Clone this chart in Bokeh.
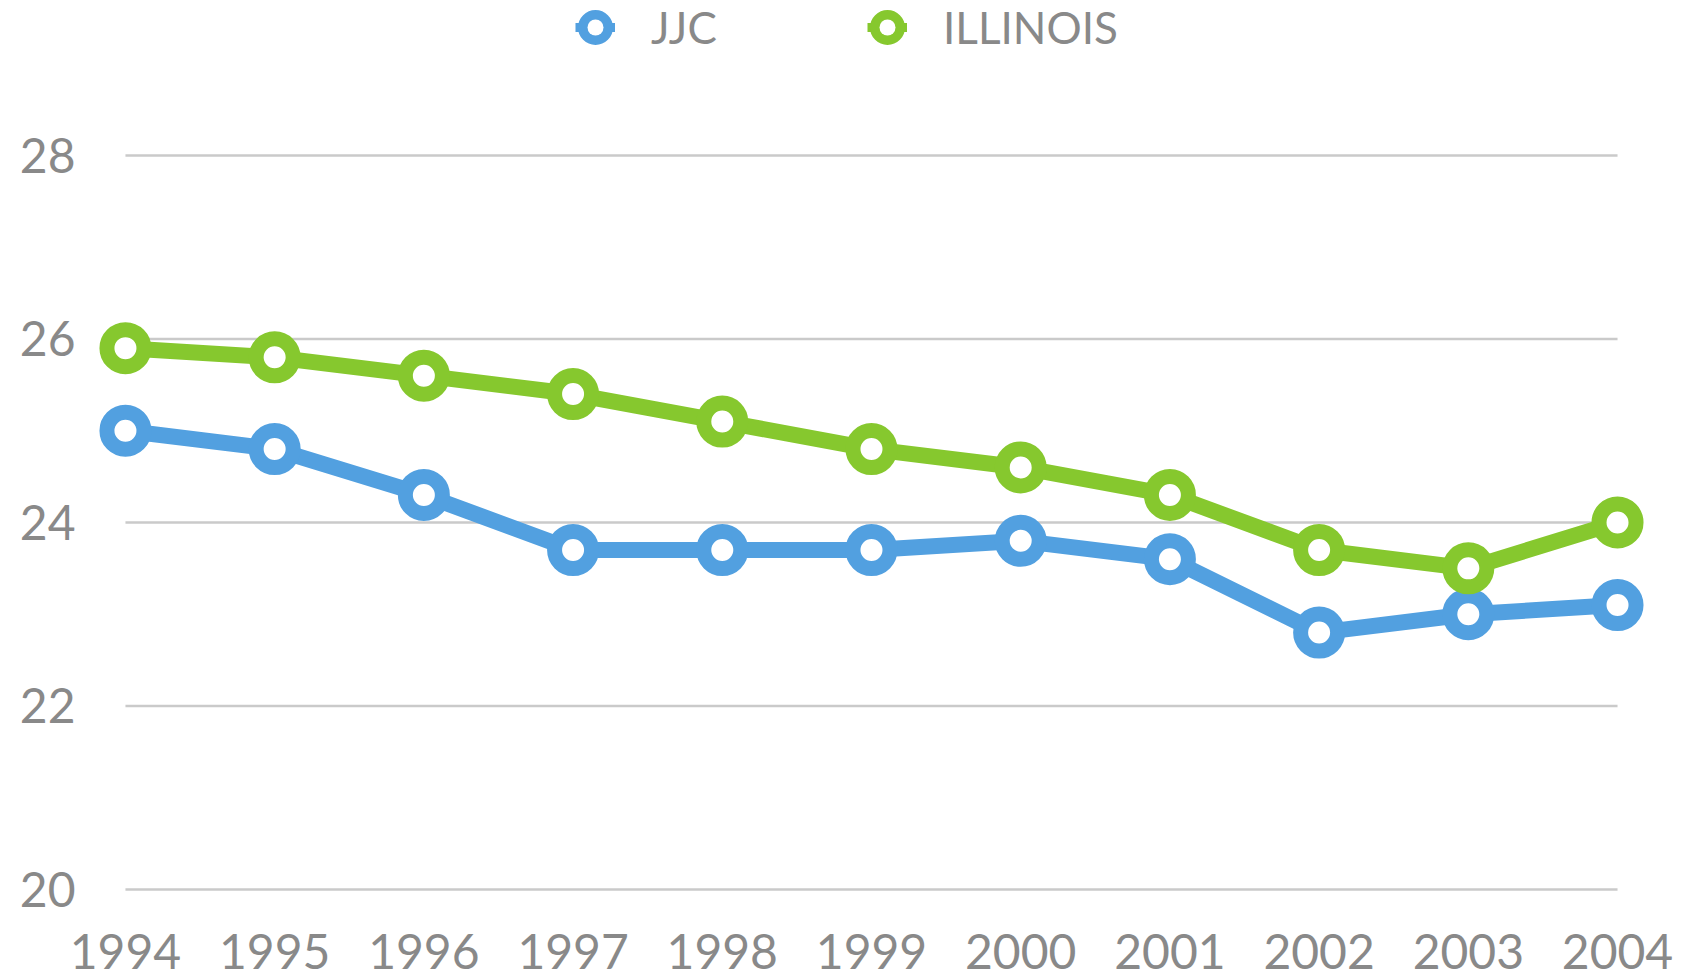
from bokeh.plotting import figure
from bokeh.models import (ColumnDataSource, FixedTicker, Range1d, Legend, LegendItem)
from bokeh.embed import file_html
from bokeh.resources import INLINE

years = [1994, 1995, 1996, 1997, 1998, 1999, 2000, 2001, 2002, 2003, 2004]
jjc = [25.0, 24.8, 24.3, 23.7, 23.7, 23.7, 23.8, 23.6, 22.8, 23.0, 23.1]
illinois = [25.9, 25.8, 25.6, 25.4, 25.1, 24.8, 24.6, 24.3, 23.7, 23.5, 24.0]
y_ticks = [20, 22, 24, 26, 28]
series_names = ["JJC", "ILLINOIS"]

BLUE = "#52A0E0"
GREEN = "#86C82E"
GRID = "#CACACA"
TEXT = "#898989"
FONT = "Lato"

FRAME_H = 930
p = figure(width=1693, height=978,
           x_range=Range1d(1993.806, 2004.288), y_range=Range1d(19.553, 29.689),
           output_backend="svg", toolbar_location=None,
           min_border_left=96, min_border_right=33, min_border_top=0, min_border_bottom=48)
p.outline_line_color = None
p.xgrid.visible = False
p.ygrid.visible = False

# horizontal gridlines spanning first to last year
p.multi_line(xs=[[years[0], years[-1]] for _ in y_ticks], ys=[[t, t] for t in y_ticks],
             line_color=GRID, line_width=2.5)

src_j = ColumnDataSource(dict(x=years, y=jjc))
src_i = ColumnDataSource(dict(x=years, y=illinois))

for src, col in ((src_j, BLUE), (src_i, GREEN)):
    p.line("x", "y", source=src, line_color=col, line_width=16)
    p.scatter("x", "y", source=src, marker="circle", size=37, fill_color="white",
              line_color=col, line_width=15)

# legend-only renderers (a single NaN point, never visible in the plot)
nan = float("nan")
legend_positions = [479, 771]
for name, col, lx in zip(series_names, (BLUE, GREEN), legend_positions):
    lr = p.line("x", "y", source=ColumnDataSource(dict(x=[nan], y=[nan])),
                line_color=col, line_width=9)
    outer = p.scatter("x", "y", source=ColumnDataSource(dict(x=[nan], y=[nan])),
                      marker="circle", fill_color=col, line_color=col, line_width=19)
    inner = p.scatter("x", "y", source=ColumnDataSource(dict(x=[nan], y=[nan])),
                      marker="circle", fill_color="white", line_color=None)
    leg = Legend(items=[LegendItem(label=name, renderers=[lr, outer, inner])],
                 location=(lx, FRAME_H - 53), orientation="horizontal",
                 glyph_width=40, glyph_height=40, label_standoff=36,
                 padding=0, margin=0, border_line_color=None,
                 background_fill_alpha=0,
                 label_text_font=FONT, label_text_font_size="44px",
                 label_text_color=TEXT)
    p.add_layout(leg)

for ax in (p.xaxis, p.yaxis):
    ax.axis_line_color = None
    ax.major_tick_line_color = None
    ax.minor_tick_line_color = None
    ax.major_tick_out = 0
    ax.major_label_text_font = FONT
    ax.major_label_text_font_size = "48px"
    ax.major_label_text_color = TEXT

p.xaxis.ticker = FixedTicker(ticks=years)
p.yaxis.ticker = FixedTicker(ticks=y_ticks)
p.xaxis.major_label_standoff = 3
p.yaxis.major_label_standoff = 21

open("out.html", "w").write(file_html(p, INLINE))
